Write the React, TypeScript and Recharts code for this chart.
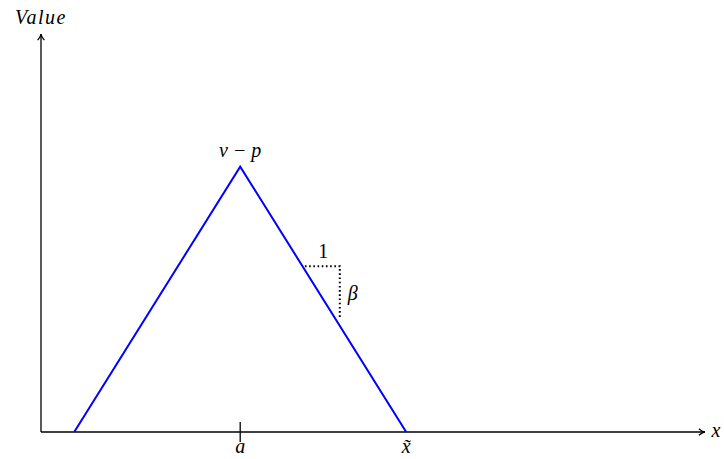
import React from "react";
import {
  LineChart,
  Line,
  XAxis,
  YAxis,
  ReferenceLine,
  ReferenceDot,
} from "recharts";

// payoff triangle
const curveX = [1, 6, 11];
const curveY = [0, 8, 0];

// slope marker (run of 1, drop of beta)
const slopeX = [7.95, 9, 9];
const slopeY = [5, 5, 3.4];

// x-axis ticks
const tickX = [6, 11];
const tickLabels = ["a", "x\u0303"];
const tickMarks = [true, false];

// axis ranges
const xMax = 20;
const yMax = 12;

const curve = curveX.map((x, i) => ({ x, y: curveY[i] }));
const slope = slopeX.map((x, i) => ({ x, y: slopeY[i] }));

const FONT = "Liberation Serif";

const Arrow = (p: any) => {
  const { x1, y1, x2, y2 } = p;
  const a = Math.atan2(y2 - y1, x2 - x1);
  const L = 7;
  const w = 0.5;
  const bx1 = x2 - L * Math.cos(a - w);
  const by1 = y2 - L * Math.sin(a - w);
  const bx2 = x2 - L * Math.cos(a + w);
  const by2 = y2 - L * Math.sin(a + w);
  const qx = x2 - 2 * Math.cos(a);
  const qy = y2 - 2 * Math.sin(a);
  return (
    <g stroke="#000" fill="none" strokeWidth={1.3}>
      <line x1={x1} y1={y1} x2={x2} y2={y2} />
      <path d={`M${bx1},${by1} Q${qx},${qy} ${x2},${y2} Q${qx},${qy} ${bx2},${by2}`} />
    </g>
  );
};

const textAt =
  (label: string, dx: number, dy: number, italic = true, spacing = 0) =>
  (p: any) => (
    <text
      x={p.cx + dx}
      y={p.cy + dy}
      textAnchor="middle"
      fontFamily={FONT}
      fontStyle={italic ? "italic" : "normal"}
      fontSize={20}
      letterSpacing={spacing}
      fill="#000"
    >
      {label}
    </text>
  );

const tickShape = (label: string, mark: boolean) => (p: any) => (
  <g>
    {mark && (
      <line x1={p.cx} x2={p.cx} y1={p.cy - 10} y2={p.cy + 10} stroke="#000" strokeWidth={1.3} />
    )}
    {textAt(label, 0, 21)(p)}
  </g>
);

export default function App() {
  return (
    <div style={{ position: "absolute", left: 0, top: 0, background: "#fff" }}>
      <LineChart
        width={724}
        height={459}
        margin={{ top: 34, right: 19, bottom: 27, left: 41 }}
      >
        <XAxis type="number" dataKey="x" domain={[0, xMax]} hide allowDataOverflow />
        <YAxis type="number" dataKey="y" domain={[0, yMax]} hide allowDataOverflow />

        <ReferenceLine
          segment={[{ x: 0, y: 0 }, { x: xMax, y: 0 }]}
          shape={Arrow}
        />
        <ReferenceLine
          segment={[{ x: 0, y: 0 }, { x: 0, y: yMax }]}
          shape={Arrow}
        />

        <Line
          data={curve}
          dataKey="y"
          type="linear"
          stroke="#0000ff"
          strokeWidth={2}
          dot={false}
          isAnimationActive={false}
        />
        <Line
          data={slope}
          dataKey="y"
          type="linear"
          stroke="#000"
          strokeWidth={2}
          strokeDasharray="1.6 2.6"
          dot={false}
          isAnimationActive={false}
        />

        {tickX.map((x, i) => (
          <ReferenceDot
            key={x}
            x={x}
            y={0}
            shape={tickShape(tickLabels[i], tickMarks[i])}
          />
        ))}

        <ReferenceDot x={6} y={8} shape={textAt("v \u2212 p", 0, -10)} />
        <ReferenceDot x={8.5} y={5} shape={textAt("1", 0, -8, false)} />
        <ReferenceDot x={9} y={4.2} shape={textAt("\u03b2", 13, 7)} />
        <ReferenceDot x={xMax} y={0} shape={textAt("x", 11, 5)} />
        <ReferenceDot x={0} y={yMax} shape={textAt("Value", 0, -10, true, 1.5)} />
      </LineChart>
    </div>
  );
}
